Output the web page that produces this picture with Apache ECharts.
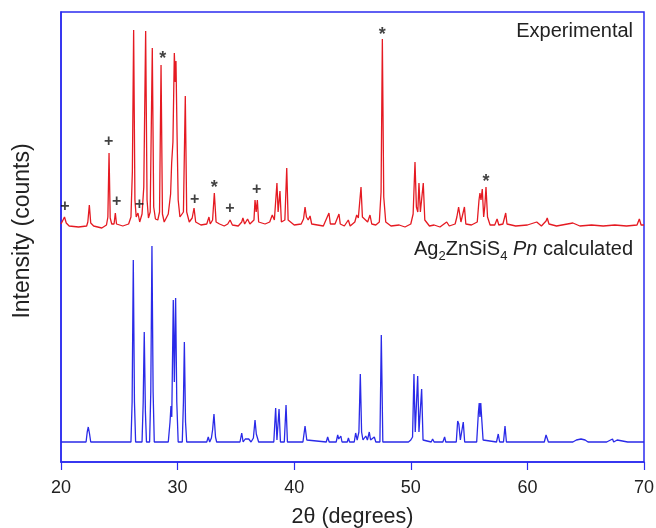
<!DOCTYPE html>
<html>
<head>
<meta charset="utf-8">
<script src="https://cdn.jsdelivr.net/npm/echarts@6/dist/echarts.min.js"></script>
<style>html,body{margin:0;padding:0;background:#fff}#c{width:656px;height:528px}</style>
</head>
<body>
<div id="c"></div>
<script>
// 2θ (degrees), intensity (arbitrary counts, experimental pattern offset above calculated)
var experimental = [[20.0,238],[20.15,240],[20.3,245],[20.45,239],[20.7,236],[21.5,235],[22.2,236],[22.3,240],[22.43,257],[22.55,239],[22.8,236],[23.5,234],[23.9,237],[24.02,245],[24.12,309],[24.22,244],[24.35,238],[24.55,238],[24.66,249],[24.76,238],[25.3,236],[25.8,238],[26.0,245],[26.12,290],[26.23,432],[26.34,262],[26.45,245],[26.6,249],[26.65,250],[26.75,240],[26.95,248],[27.1,275],[27.26,431],[27.38,262],[27.5,244],[27.65,250],[27.83,414],[27.95,255],[28.1,243],[28.3,242],[28.45,250],[28.58,397],[28.7,248],[28.85,240],[29.2,248],[29.4,268],[29.49,299],[29.6,320],[29.72,409],[29.8,380],[29.86,401],[29.95,330],[30.05,262],[30.2,245],[30.5,250],[30.66,366],[30.78,250],[31.0,240],[31.25,244],[31.41,254],[31.55,240],[32.0,237],[32.5,238],[32.69,245],[32.8,238],[33.0,242],[33.15,269],[33.3,240],[33.6,238],[34.0,236],[34.3,238],[34.5,242],[34.7,237],[35.2,236],[35.5,240],[35.6,244],[35.75,238],[36.0,243],[36.2,238],[36.55,242],[36.64,262],[36.74,250],[36.84,262],[36.95,240],[37.5,238],[37.9,240],[38.12,247],[38.3,242],[38.52,279],[38.62,250],[38.78,271],[38.9,240],[39.2,242],[39.36,294],[39.48,242],[40.0,237],[40.6,238],[40.8,243],[40.93,255],[41.05,245],[41.2,242],[41.36,246],[41.5,238],[42.0,237],[42.5,236],[42.98,249],[43.1,238],[43.5,238],[43.84,248],[43.95,238],[44.3,236],[44.64,242],[44.8,236],[45.2,240],[45.36,247],[45.5,244],[45.73,275],[45.85,245],[46.3,240],[46.5,247],[46.65,238],[47.0,237],[47.3,240],[47.45,270],[47.56,423],[47.68,265],[47.85,240],[48.3,236],[49.0,237],[49.5,235],[50.0,238],[50.2,248],[50.36,300],[50.48,255],[50.6,250],[50.7,279],[50.82,250],[50.95,250],[51.07,279],[51.2,242],[51.6,236],[52.0,237],[52.5,235],[53.08,240],[53.3,236],[53.8,238],[53.95,245],[54.1,255],[54.2,255],[54.3,240],[54.45,240],[54.6,255],[54.72,238],[55.2,237],[55.7,240],[55.85,262],[55.93,269],[56.02,262],[56.13,273],[56.25,245],[56.35,256],[56.45,275],[56.58,245],[56.8,237],[57.2,237],[57.4,243],[57.55,237],[57.9,238],[58.14,249],[58.25,238],[59.0,236],[60.0,237],[60.8,240],[61.2,236],[61.6,241],[61.7,244],[61.85,238],[62.5,236],[63.9,239],[64.5,236],[65.5,237],[66.5,236],[67.5,237],[68.5,236],[69.4,237],[69.6,243],[69.75,237],[70,237]];

var calculated = [[20,20],[22.15,20],[22.25,30],[22.34,35],[22.45,28],[22.55,20],[26.0,20],[26.1,60],[26.2,202],[26.3,60],[26.4,20],[26.95,20],[27.05,60],[27.14,130],[27.24,50],[27.33,20],[27.6,20],[27.7,70],[27.8,216],[27.9,70],[28.0,20],[29.2,20],[29.35,40],[29.43,56],[29.5,45],[29.55,90],[29.63,162],[29.72,80],[29.83,164],[29.93,60],[30.05,20],[30.4,20],[30.5,60],[30.58,120],[30.68,40],[30.78,20],[32.5,20],[32.63,25],[32.75,20],[32.9,24],[33.0,32],[33.12,48],[33.25,25],[33.35,20],[35.35,20],[35.5,29],[35.62,20],[35.8,23],[35.9,22],[36.1,23],[36.3,20],[36.5,24],[36.64,42],[36.75,28],[36.85,30],[36.95,20],[38.25,20],[38.41,54],[38.52,22],[38.7,53],[38.82,20],[39.15,20],[39.3,57],[39.42,20],[40.75,20],[40.93,36],[41.08,22],[41.2,20],[42.75,20],[42.87,25],[43.0,20],[43.6,20],[43.73,27],[43.82,23],[44.0,26],[44.1,20],[44.55,20],[44.65,24],[44.75,20],[45.15,20],[45.27,29],[45.4,22],[45.55,30],[45.67,88],[45.78,30],[45.9,22],[46.14,26],[46.28,22],[46.44,30],[46.55,22],[46.87,25],[47.0,20],[47.35,20],[47.47,127],[47.6,20],[49.8,20],[50.0,22],[50.15,25],[50.27,88],[50.38,30],[50.47,30],[50.59,86],[50.7,30],[50.8,28],[50.93,73],[51.05,22],[51.2,20],[51.75,20],[51.87,23],[52.0,20],[52.5,20],[52.6,22],[52.75,20],[52.9,25],[53.0,20],[53.9,20],[54.02,41],[54.12,38],[54.25,22],[54.4,22],[54.5,40],[54.62,20],[55.65,20],[55.8,50],[55.87,59],[55.93,45],[56.0,59],[56.1,40],[56.2,22],[56.35,20],[57.35,20],[57.5,28],[57.62,20],[57.95,20],[58.08,36],[58.2,20],[59.8,20],[59.9,21],[60.0,20],[60.55,20],[60.65,22],[60.75,20],[61.45,20],[61.6,27],[61.7,25],[61.8,20],[63.7,20],[63.8,22],[63.9,20],[64.2,22],[64.35,20],[64.6,23],[64.75,21],[64.95,22],[65.2,20],[66.8,20],[67.3,23],[67.4,20],[67.7,22],[67.8,20],[68.6,20],[68.7,21],[68.8,20],[70,20]];

// annotation markers (position of label)
var plusMarks = [[20.34,255],[24.09,320],[24.78,260],[26.72,257],[31.46,262],[34.49,253],[36.78,272]];
var starMarks = [[28.72,407],[33.15,278],[47.56,431],[56.45,284]];

var xTicks = [20, 30, 40, 50, 60, 70];
var xTitle = '2\u03b8 (degrees)';
var yTitle = 'Intensity (counts)';

var BLUE = '#2b2bef';
var FONT = 'Liberation Sans, Arial, sans-serif';

var chart = echarts.init(document.getElementById('c'), null, {renderer: 'canvas'});
chart.setOption({
  animation: false,
  backgroundColor: '#fff',
  grid: {left: 61, right: 12, top: 12, bottom: 66, show: true, borderColor: BLUE, borderWidth: 1.5, backgroundColor: 'transparent', containLabel: false, outerBoundsMode: 'none'},
  xAxis: {
    type: 'value', min: xTicks[0], max: xTicks[xTicks.length - 1], interval: 10,
    axisLine: {show: true, lineStyle: {color: BLUE, width: 1.5}},
    axisTick: {show: true, inside: false, length: 8, lineStyle: {color: BLUE, width: 1.2}},
    axisLabel: {color: '#222', fontSize: 18, fontFamily: FONT, margin: 17},
    splitLine: {show: false},
    name: xTitle, nameLocation: 'middle', nameGap: 44,
    nameTextStyle: {color: '#222', fontSize: 21.5, fontFamily: FONT}
  },
  yAxis: {
    type: 'value', min: 0, max: 450,
    axisLine: {show: true, lineStyle: {color: BLUE, width: 1.5}},
    axisTick: {show: false}, axisLabel: {show: false}, splitLine: {show: false},
    name: yTitle, nameLocation: 'middle', nameGap: 27,
    nameTextStyle: {color: '#222', fontSize: 23, fontFamily: FONT, padding: [0, 0, 0, 12]}
  },
  series: [
    {type: 'line', data: experimental, symbol: 'none', lineStyle: {color: '#e51a22', width: 1.3}, z: 3},
    {type: 'line', data: calculated, symbol: 'none', lineStyle: {color: '#2a2ae8', width: 1.3}, z: 3},
    {type: 'scatter', data: plusMarks, symbolSize: 0, z: 5,
     label: {show: true, position: 'inside', formatter: '+', color: '#111', fontSize: 16, fontWeight: 'bold', fontFamily: FONT}},
    {type: 'scatter', data: starMarks, symbolSize: 0, z: 5,
     label: {show: true, position: 'inside', formatter: '*', color: '#111', fontSize: 18, fontWeight: 'bold', fontFamily: FONT, offset: [0, 4]}}
  ],
  graphic: [
    {type: 'text', right: 23, top: 21, style: {text: 'Experimental', fill: '#222', font: '20px Liberation Sans, Arial, sans-serif'}},
    {type: 'text', right: 23, top: 239, style: {
      text: 'Ag{sub|2}ZnSiS{sub|4} {it|Pn} calculated',
      fill: '#222', font: '20px Liberation Sans, Arial, sans-serif',
      rich: {
        sub: {fontSize: 13, fontFamily: FONT, fill: '#222', padding: [14, 0, 0, 0], verticalAlign: 'bottom'},
        it: {fontSize: 20, fontStyle: 'italic', fontFamily: FONT, fill: '#222'}
      }
    }}
  ]
});
</script>
</body>
</html>
